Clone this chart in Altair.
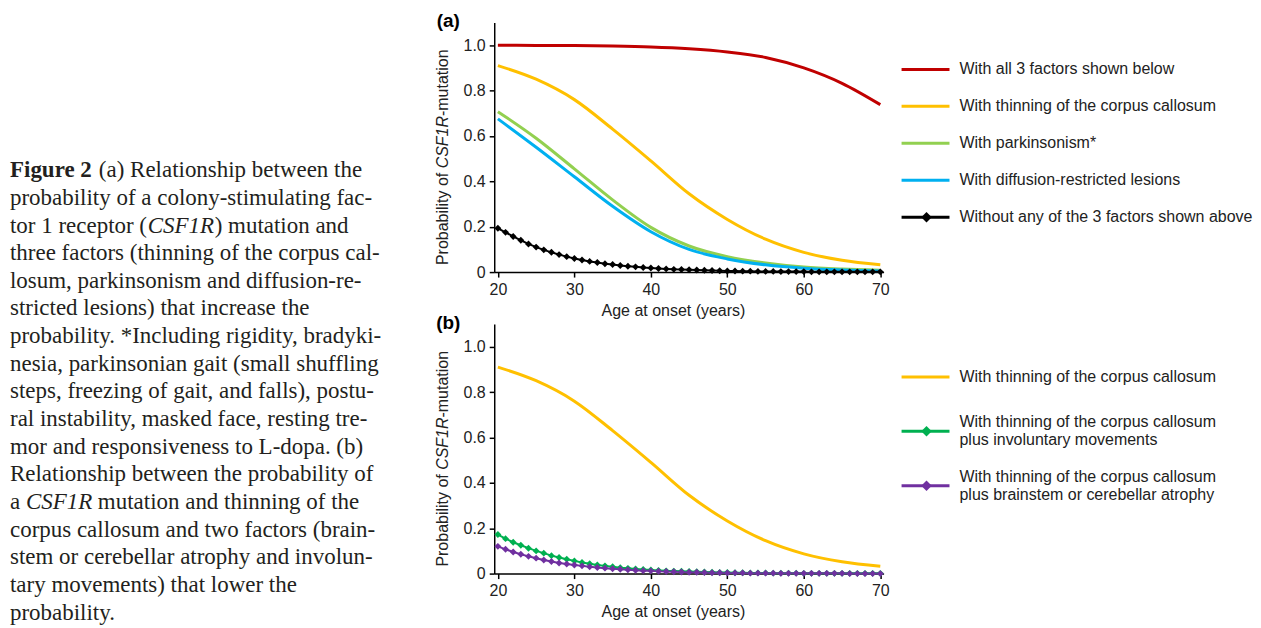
import altair as alt
import pandas as pd

SANS = "Liberation Sans"
SERIF = "Liberation Serif"
TXT = "#222222"

# ---------------- data ----------------
ages_5 = [20, 25, 30, 35, 40, 45, 50, 55, 60, 65, 70]
all_3_factors = [0.9995, 0.999, 0.998, 0.996, 0.992, 0.984, 0.970, 0.946, 0.900, 0.832, 0.738]
thinning_cc = [0.910, 0.850, 0.760, 0.630, 0.490, 0.345, 0.232, 0.145, 0.087, 0.052, 0.032]
parkinsonism = [0.707, 0.590, 0.455, 0.318, 0.197, 0.115, 0.068, 0.040, 0.022, 0.013, 0.008]
diffusion = [0.675, 0.550, 0.420, 0.290, 0.178, 0.100, 0.058, 0.032, 0.017, 0.009, 0.005]

ages_1 = list(range(20, 71))
none_of_3 = [0.193, 0.175, 0.157, 0.140, 0.124, 0.110, 0.098, 0.087, 0.077, 0.068, 0.060,
             0.053, 0.047, 0.042, 0.037, 0.033, 0.029, 0.026, 0.023, 0.020, 0.018,
             0.016, 0.014, 0.012, 0.011, 0.010, 0.009, 0.008, 0.007, 0.006, 0.005,
             0.005, 0.004, 0.004, 0.003, 0.003, 0.003, 0.002, 0.002, 0.002, 0.002,
             0.001, 0.001, 0.001, 0.001, 0.001, 0.001, 0.001, 0.001, 0.001, 0.001]
thin_invol = [0.172, 0.154, 0.138, 0.125, 0.112, 0.100, 0.090, 0.079, 0.071, 0.063, 0.056,
              0.049, 0.043, 0.038, 0.034, 0.030, 0.026, 0.023, 0.020, 0.018, 0.016,
              0.014, 0.012, 0.011, 0.010, 0.009, 0.008, 0.007, 0.006, 0.005, 0.005,
              0.004, 0.004, 0.003, 0.003, 0.003, 0.002, 0.002, 0.002, 0.002, 0.001,
              0.001, 0.001, 0.001, 0.001, 0.001, 0.001, 0.001, 0.001, 0.001, 0.001]
thin_atrophy = [0.120, 0.107, 0.095, 0.085, 0.076, 0.068, 0.060, 0.053, 0.047, 0.042, 0.038,
                0.034, 0.030, 0.027, 0.024, 0.021, 0.019, 0.017, 0.015, 0.013, 0.012,
                0.010, 0.009, 0.008, 0.007, 0.006, 0.006, 0.005, 0.004, 0.004, 0.003,
                0.003, 0.003, 0.002, 0.002, 0.002, 0.002, 0.001, 0.001, 0.001, 0.001,
                0.001, 0.001, 0.001, 0.001, 0.001, 0.000, 0.000, 0.000, 0.000, 0.000]

names_a = ["With all 3 factors shown below", "With thinning of the corpus callosum",
           "With parkinsonism*", "With diffusion-restricted lesions",
           "Without any of the 3 factors shown above"]
colors_a = ["#C00000", "#FFC000", "#92D050", "#00B0F0", "#000000"]
names_b = ["With thinning of the corpus callosum",
           "With thinning of the corpus callosum plus involuntary movements",
           "With thinning of the corpus callosum plus brainstem or cerebellar atrophy"]
labels_b = ["With thinning of the corpus callosum",
            "With thinning of the corpus callosum\nplus involuntary movements",
            "With thinning of the corpus callosum\nplus brainstem or cerebellar atrophy"]
colors_b = ["#FFC000", "#00B050", "#7030A0"]

y_ticks = [0, 0.2, 0.4, 0.6, 0.8, 1.0]
x_ticks = [20, 30, 40, 50, 60, 70]
y_title_parts = ["Probability of ", "CSF1R", "-mutation"]

caption_lines = [
    "Figure 2  (a) Relationship between the",
    "probability of a colony-stimulating fac-",
    "tor 1 receptor (CSF1R) mutation and",
    "three factors (thinning of the corpus cal-",
    "losum, parkinsonism and diffusion-re-",
    "stricted lesions) that increase the",
    "probability. *Including rigidity, bradyki-",
    "nesia, parkinsonian gait (small shuffling",
    "steps, freezing of gait, and falls), postu-",
    "ral instability, masked face, resting tre-",
    "mor and responsiveness to L-dopa. (b)",
    "Relationship between the probability of",
    "a CSF1R mutation and thinning of the",
    "corpus callosum and two factors (brain-",
    "stem or cerebellar atrophy and involun-",
    "tary movements) that lower the",
    "probability.",
]
# styled pieces of lines 0, 2 and 12: (line, text, weight, style, x offset)
caption_pieces = [
    (0, "Figure 2", "bold", "normal", 0),
    (0, "(a) Relationship between the", "normal", "normal", 89),
    (2, "tor 1 receptor (", "normal", "normal", 0),
    (2, "CSF1R", "normal", "italic", 138),
    (2, ") mutation and", "normal", "normal", 205),
    (12, "a", "normal", "normal", 0),
    (12, "CSF1R", "normal", "italic", 16),
    (12, "mutation and thinning of the", "normal", "normal", 88),
]

# ---------------- chart construction ----------------
W, H = 390, 250
CAP_FS = 23
xscale = alt.Scale(domain=[19.52, 70.43], nice=False, zero=False)
yscale = alt.Scale(domain=[0, 1.1], nice=False)
xaxis = alt.Axis(values=x_ticks, title="Age at onset (years)", titleX=179, titleY=38,
                 titleBaseline="middle", labelPadding=4, tickSize=5)
yaxis = alt.Axis(values=y_ticks, title=None, tickSize=5, labelPadding=4,
                 labelExpr="datum.value == 0 ? '0' : format(datum.value, '.1f')")


def long_df(ages, series_names, series_vals):
    rows = []
    for n, vals in zip(series_names, series_vals):
        for a, v in zip(ages, vals):
            rows.append({"series": n, "age": a, "p": v})
    return pd.DataFrame(rows)


def panel(tag, smooth_df, marker_df, names, labels, colors, markers, leg_range):
    cscale = alt.Scale(domain=names, range=colors)
    col = alt.Color("series:N", scale=cscale, legend=None)
    x = alt.X("age:Q", scale=xscale, axis=xaxis)
    y = alt.Y("p:Q", scale=yscale, axis=yaxis)

    smooth = alt.Chart(smooth_df).mark_line(interpolate="monotone", strokeWidth=3).encode(
        x=x, y=y, color=col, order="age:Q")
    mline = alt.Chart(marker_df).mark_line(strokeWidth=2).encode(
        x=x, y=y, color=col, order="age:Q")
    mpts = alt.Chart(marker_df).mark_point(shape="diamond", filled=True, size=48, opacity=1).encode(
        x=x, y=y, color=col)

    tag_l = alt.Chart(pd.DataFrame({"t": [tag]})).mark_text(
        font=SANS, fontSize=19, fontWeight="bold", color="black", align="center",
        baseline="middle").encode(x=alt.value(-46), y=alt.value(-1), text="t:N")

    yt = []
    for part, style, ypos in zip(y_title_parts, ["normal", "italic", "normal"], [243, 146.1, 93.7]):
        yt.append(alt.Chart(pd.DataFrame({"t": [part]})).mark_text(
            font=SANS, fontSize=16, fontStyle=style, color=TXT, angle=270, align="left",
            baseline="middle").encode(x=alt.value(-51.5), y=alt.value(ypos), text="t:N"))

    data_layer = alt.layer(smooth, mline, mpts, tag_l, *yt)

    leg = pd.DataFrame({"series": names, "label": labels, "marker": markers})
    ly = alt.Y("series:N", scale=alt.Scale(type="point", domain=names, range=leg_range, padding=0),
               axis=None)
    lrule = alt.Chart(leg).mark_rule(strokeWidth=3).encode(
        y=ly, x=alt.value(408), x2=alt.value(456), color=col)
    lpts = alt.Chart(leg).transform_filter("datum.marker").mark_point(
        shape="diamond", filled=True, size=110, opacity=1).encode(y=ly, x=alt.value(433), color=col)
    ltxt1 = alt.Chart(leg).transform_filter("indexof(datum.label, '\\n') < 0").mark_text(
        font=SANS, fontSize=16, color=TXT, align="left", baseline="middle").encode(
        y=ly, x=alt.value(466), text="label:N")
    ltxt2 = alt.Chart(leg).transform_filter("indexof(datum.label, '\\n') >= 0").mark_text(
        font=SANS, fontSize=16, color=TXT, align="left", baseline="middle",
        lineBreak="\n", lineHeight=18, dy=-9).encode(y=ly, x=alt.value(466), text="label:N")
    legend_layer = alt.layer(lrule, lpts, ltxt1, ltxt2)

    return alt.layer(data_layer, legend_layer).resolve_scale(y="independent").properties(
        width=W, height=H)


smooth_a = long_df(ages_5, names_a[:4], [all_3_factors, thinning_cc, parkinsonism, diffusion])
marker_a = long_df(ages_1, names_a[4:], [none_of_3])
pa = panel("(a)", smooth_a, marker_a, names_a, names_a, colors_a,
           [False, False, False, False, True], [47, 195])

smooth_b = long_df(ages_5, names_b[:1], [thinning_cc])
marker_b = long_df(ages_1, names_b[1:], [thin_invol, thin_atrophy])
pb = panel("(b)", smooth_b, marker_b, names_b, labels_b, colors_b,
           [False, True, True], [53, 162])

# caption
plain_idx = [i for i in range(len(caption_lines)) if i not in (0, 2, 12)]
cap_y = alt.Y("line:Q", scale=alt.Scale(domain=[0, 16], range=[148, 591], nice=False), axis=None)
cap_layers = [alt.Chart(pd.DataFrame({"line": plain_idx,
                                      "text": [caption_lines[i] for i in plain_idx]})).mark_text(
    font=SERIF, fontSize=CAP_FS, color="#231F20", align="left", baseline="middle").encode(
    x=alt.value(2), y=cap_y, text="text:N")]
for ln, txt, wt, st, off in caption_pieces:
    cap_layers.append(alt.Chart(pd.DataFrame({"line": [ln], "text": [txt]})).mark_text(
        font=SERIF, fontSize=CAP_FS, color="#231F20", align="left", baseline="middle",
        fontWeight=wt, fontStyle=st).encode(x=alt.value(2 + off), y=cap_y, text="text:N"))
caption = alt.layer(*cap_layers).properties(width=400, height=595)

panels = alt.vconcat(pa, pb, spacing=-4).resolve_scale(color="independent")

chart = alt.hconcat(caption, panels, spacing=27).properties(
    padding={"left": 0, "top": 4, "right": 0, "bottom": 0}
).configure_view(stroke=None).configure_axis(
    grid=False, domainColor="black", tickColor="black", domainWidth=1.5, tickWidth=1.5,
    labelFont=SANS, labelFontSize=16, labelColor=TXT, titleFont=SANS, titleFontSize=16,
    titleFontWeight="normal", titleColor=TXT
)

chart.save("out.html", embed_options={"renderer": "svg", "actions": False})
